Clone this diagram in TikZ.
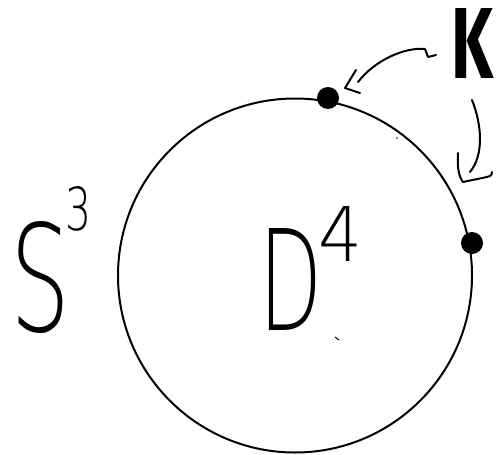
\documentclass[tikz,border=0pt]{standalone}
\usepackage{fontspec}
\usepackage{graphicx}
\setmainfont{Fira Sans}
\IfFontExistsTF{DejaVuSans-ExtraLight.ttf}
  {\newfontfamily\handfont{DejaVuSans-ExtraLight.ttf}}
  {\IfFontExistsTF{DejaVu Sans ExtraLight}
    {\newfontfamily\handfont{DejaVu Sans ExtraLight}}
    {\IfFontExistsTF{Fira Sans Light}
      {\newfontfamily\handfont{Fira Sans Light}}
      {\newfontfamily\handfont{Fira Sans}}}}
\newcommand\fitbox[3]{\resizebox{#1pt}{#2pt}{#3}}
\begin{document}
\begin{tikzpicture}[x=1pt,y=-1pt,
  pen/.style={line width=2pt,line cap=round,line join=round},
  dot/.style={circle,fill=black,minimum size=22pt,inner sep=0pt},
  hand/.style={inner sep=0pt,font=\handfont\fontsize{120}{120}\selectfont}]
\useasboundingbox (0,0) rectangle (498,455);
\node[draw,circle,line width=2pt,minimum size=354pt,inner sep=0pt] (disk) at (295,275.5) {};
\node[dot] (p1) at (328,98) {};
\node[dot] (p2) at (472,243) {};
% labels
\node[hand] (S) at (40,278) {\fitbox{60}{110}{S}};
\node[hand] (S3) at (78,209) {\fitbox{26}{44}{3}};
\node[hand] (D) at (291,279) {\fitbox{63}{102}{D}};
\node[hand] (D4) at (340,234) {\fitbox{44}{55}{4}};
\node[inner sep=0pt,font=\bfseries\fontsize{100}{100}\selectfont] (K) at (472,43) {\fitbox{42}{70}{K}};
% arrow K -> p1
\coordinate (a1s) at (425,49);
\coordinate (a1e) at (358,82);
\coordinate (a1t) at (345,88);
\draw[pen] (436,55) -- (428,57) -- (a1s) .. controls (405,47) and (375,60) .. (a1e);
\draw[pen] (356,70) -- (a1t) -- (360,93);
% arrow K -> p2
\coordinate (a2s) at (472,100);
\coordinate (a2e) at (470,172);
\coordinate (a2t) at (463,182);
\draw[pen] (a2s) .. controls (482,125) and (484,155) .. (a2e);
\draw[pen] (458,153) .. controls (457,168) and (459,177) .. (a2t) -- (487,177) .. controls (491,176) and (493,174) .. (492,172);
% stray marks
\fill (397,138) circle (0.9);
\draw[line width=1pt] (335,337) -- (339,340);
\end{tikzpicture}
\end{document}
